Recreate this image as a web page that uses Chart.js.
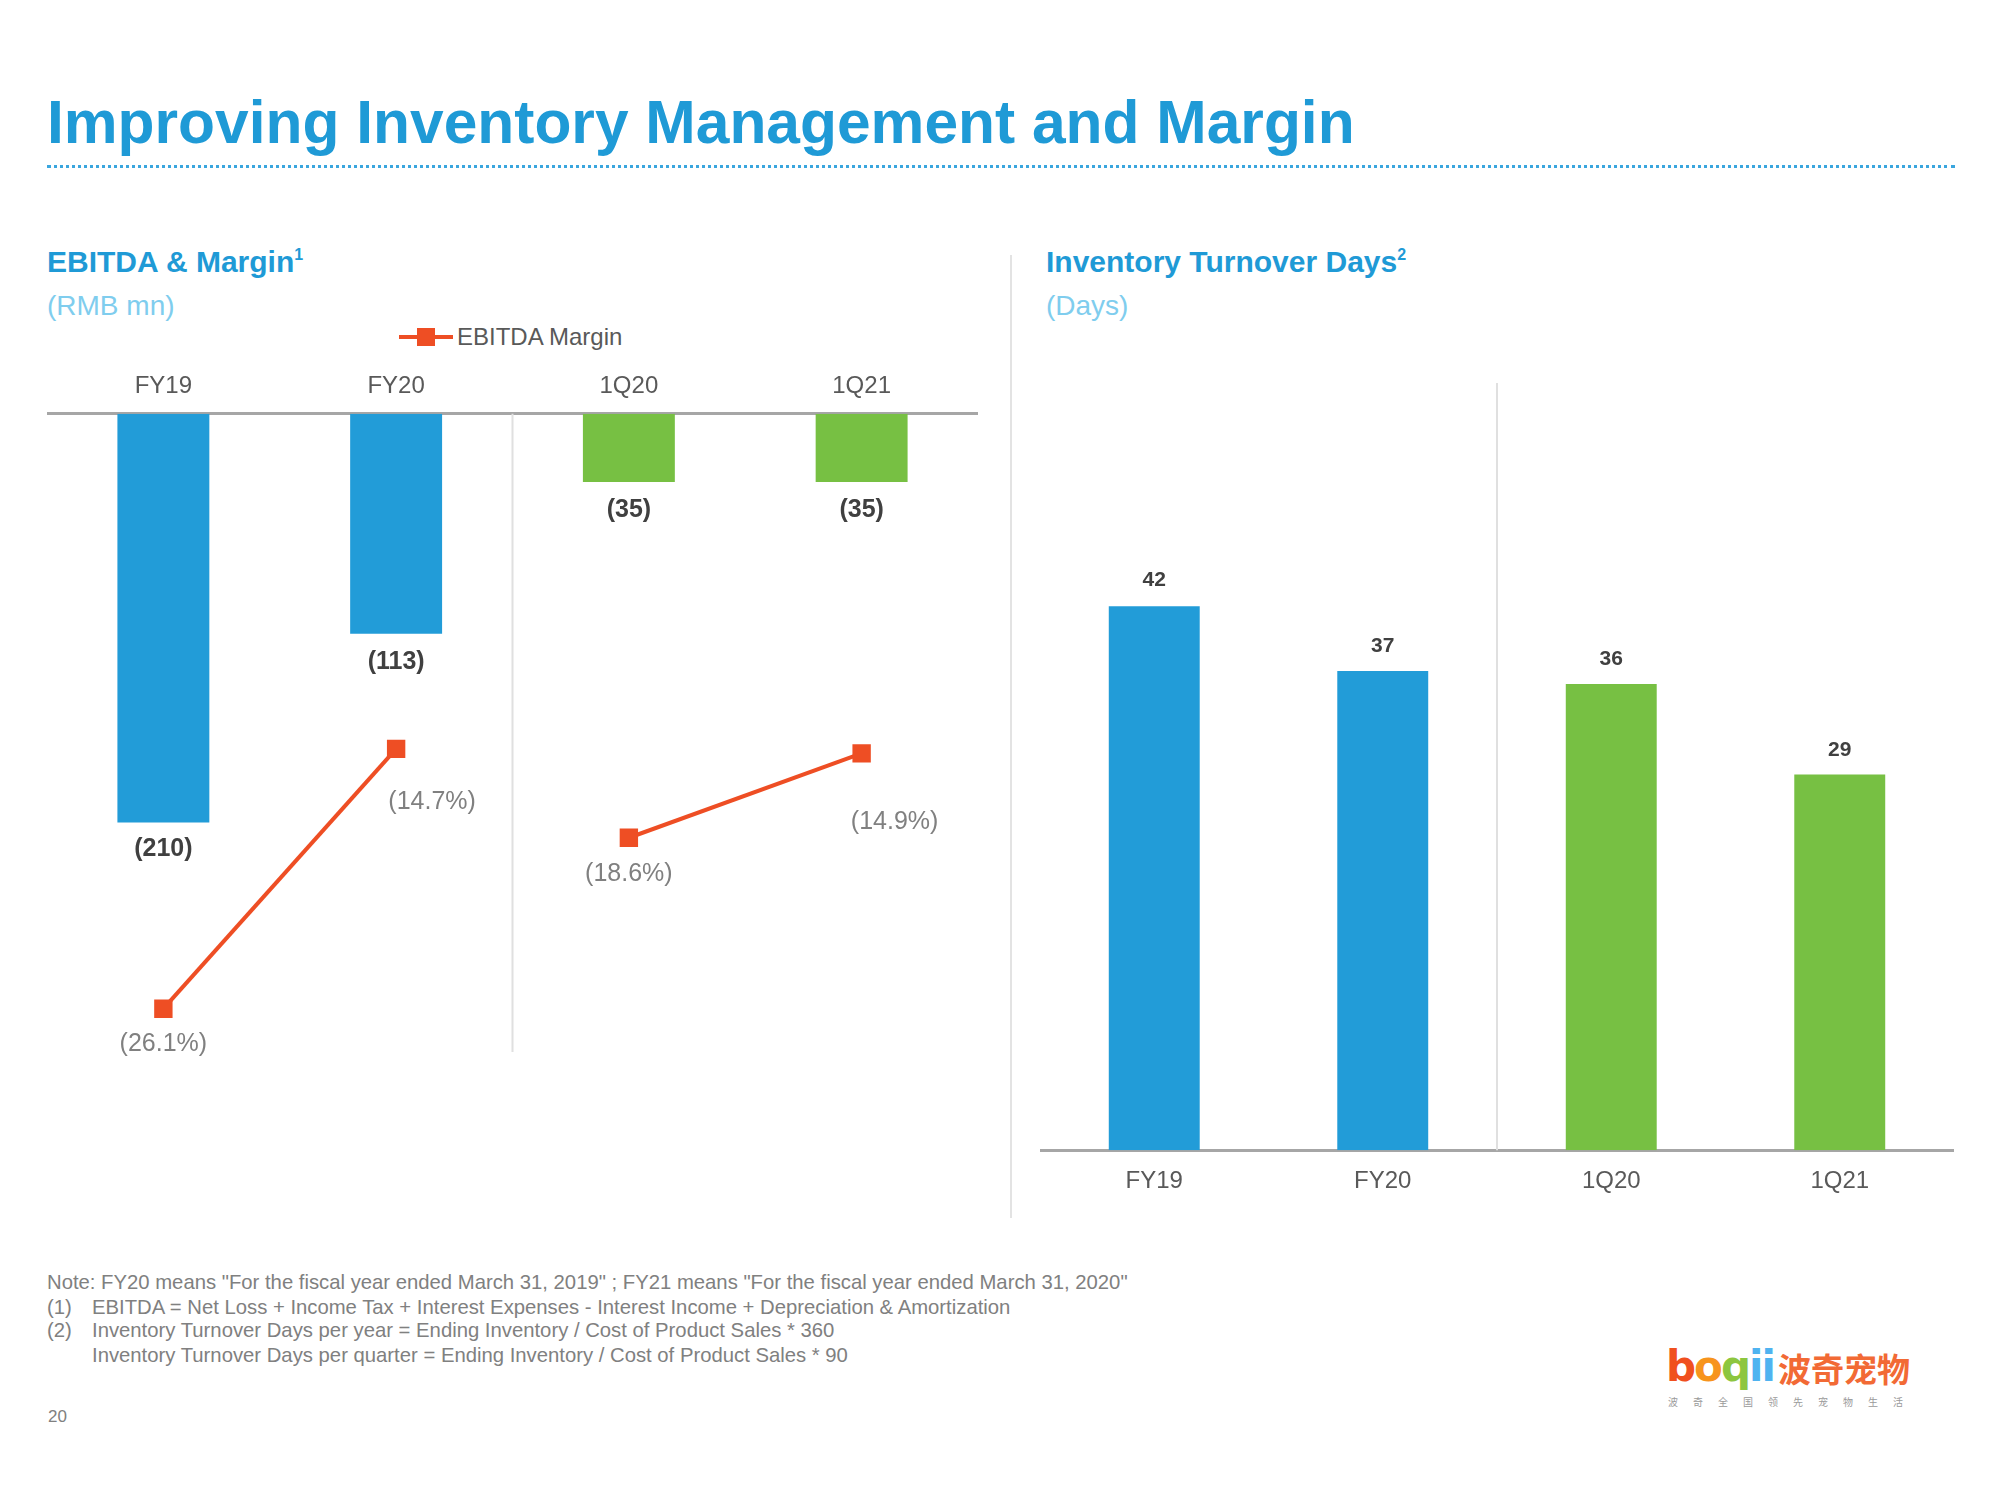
<!DOCTYPE html>
<html>
<head>
<meta charset="utf-8">
<script src="https://cdn.jsdelivr.net/npm/chart.js@4.4.1/dist/chart.umd.min.js"></script>
<style>
  body { margin: 0; width: 2000px; height: 1500px; background: #fff; position: relative; overflow: hidden;
         font-family: "Liberation Sans", Arial, sans-serif; }
  .t { position: absolute; white-space: nowrap; }
  #title { left: 47px; top: 91px; font-size: 60.5px; line-height: 62px; font-weight: bold; color: #1f9ad6; }
  #dots { position: absolute; left: 47px; top: 165px; width: 1908px; border-top: 3px dotted #3aa6de; }
  .head { font-size: 30px; line-height: 30px; font-weight: bold; color: #1f9ad6; }
  .head sup { font-size: 16px; vertical-align: 12px; }
  .unit { font-size: 28px; line-height: 28px; color: #7fcdee; }
  #legend { left: 399px; top: 325px; height: 24px; font-size: 24px; line-height: 24px; color: #595959; }
  #legend .ln { position: absolute; left: 0; top: 10px; width: 54px; height: 4px; background: #ee4e24; }
  #legend .sq { position: absolute; left: 18px; top: 3px; width: 18px; height: 18px; background: #ee4e24; }
  #legend span { position: absolute; left: 58px; top: 0; }
  .vdiv { position: absolute; width: 2px; background: #e3e3e3; }
  canvas { position: absolute; }
  .note { font-size: 20.3px; line-height: 20px; color: #808080; }
  #logo { left: 1666px; top: 1344px; }
  #boqii { position: absolute; left: 0; top: 0; font-family: "DejaVu Sans", sans-serif; font-weight: bold;
           font-size: 42px; line-height: 46px; letter-spacing: -2px; }
  #cn { position: absolute; left: 112px; top: 4px; font-family: "Noto Sans CJK SC", sans-serif; font-weight: bold;
        font-size: 33px; line-height: 40px; color: #f26a35; }
  #tag { position: absolute; left: 2px; top: 52px; font-family: "Noto Sans CJK SC", sans-serif;
         font-size: 10px; line-height: 12px; color: #9a9a9a; letter-spacing: 15px; }
</style>
</head>
<body>
<div class="t" id="title">Improving Inventory Management and Margin</div>
<div id="dots"></div>

<div class="t head" style="left:47px; top:240px;">EBITDA &amp; Margin<sup>1</sup></div>
<div class="t unit" style="left:47px; top:292px;">(RMB mn)</div>
<div class="t" id="legend"><div class="ln"></div><div class="sq"></div><span>EBITDA Margin</span></div>

<div class="vdiv" style="left:1010px; top:255px; height:963px;"></div>
<div class="t head" style="left:1046px; top:240px;">Inventory Turnover Days<sup>2</sup></div>
<div class="t unit" style="left:1046px; top:292px;">(Days)</div>

<canvas id="ebitdaChart" width="931" height="729" style="left:47px; top:351px;"></canvas>
<canvas id="daysChart" width="914" height="880" style="left:1040px; top:340px;"></canvas>

<div class="t note" style="left:47px; top:1272px;">Note: FY20 means "For the fiscal year ended March 31, 2019" ; FY21 means "For the fiscal year ended March 31, 2020"</div>
<div class="t note" style="left:47px; top:1297px;">(1)</div>
<div class="t note" style="left:92px; top:1297px;">EBITDA = Net Loss + Income Tax + Interest Expenses - Interest Income + Depreciation &amp; Amortization</div>
<div class="t note" style="left:47px; top:1320px;">(2)</div>
<div class="t note" style="left:92px; top:1320px;">Inventory Turnover Days per year = Ending Inventory / Cost of Product Sales * 360</div>
<div class="t note" style="left:92px; top:1345px;">Inventory Turnover Days per quarter = Ending Inventory / Cost of Product Sales * 90</div>
<div class="t note" style="left:48px; top:1407px; font-size:17px;">20</div>

<div class="t" id="logo">
  <div id="boqii"><span style="color:#f0501e">b</span><span style="color:#f7941d">o</span><span style="color:#8dc63f">q</span><span style="color:#4fb3f0">ii</span></div>
  <div id="cn">波奇宠物</div>
  <div id="tag">波奇全国领先宠物生活</div>
</div>

<script>
const categories = ['FY19', 'FY20', '1Q20', '1Q21']
const ebitda = [-210, -113, -35, -35]
const ebitdaMargin = [-26.1, -14.7, -18.6, -14.9]
const turnoverDays = [42, 37, 36, 29]

const blue = '#229cd8'
const green = '#77c043'
const lineColor = '#ee4e24'
const periodColors = [blue, blue, green, green]

// labels drawn next to each mark, offsets in px from the mark
const valueLabels = {
  id: 'valueLabels',
  afterDatasetsDraw (chart) {
    const ctx = chart.ctx
    chart.data.datasets.forEach((ds, i) => {
      const lab = ds.valueLabel
      if (!lab) return
      const meta = chart.getDatasetMeta(i)
      ctx.save()
      ctx.font = lab.font
      ctx.fillStyle = lab.color
      ctx.textAlign = 'center'
      ctx.textBaseline = 'middle'
      meta.data.forEach((el, j) => {
        const v = ds.data[j]
        if (v === null) return
        const p = el.getProps(['x', 'y'], true)
        const off = lab.offsets[j]
        ctx.fillText(lab.format(v), p.x + off[0], p.y + off[1])
      })
      ctx.restore()
    })
  }
}

// thin divider between the annual and quarterly groups
const groupDivider = {
  id: 'groupDivider',
  beforeDatasetsDraw (chart, args, opts) {
    const x = chart.scales.x
    const px = (x.getPixelForValue(opts.after) + x.getPixelForValue(opts.after + 1)) / 2
    const area = chart.chartArea
    const ctx = chart.ctx
    ctx.save()
    ctx.strokeStyle = '#e0e0e0'
    ctx.lineWidth = 2
    ctx.beginPath()
    ctx.moveTo(px, area.top + opts.topGap)
    ctx.lineTo(px, area.bottom)
    ctx.stroke()
    ctx.restore()
  }
}

new Chart(document.getElementById('ebitdaChart'), {
  type: 'bar',
  data: {
    labels: categories,
    datasets: [
      {
        label: 'EBITDA Margin',
        type: 'line',
        data: ebitdaMargin,
        yAxisID: 'y1',
        order: 1,
        borderColor: lineColor,
        backgroundColor: lineColor,
        borderWidth: 4,
        pointStyle: 'rect',
        pointRadius: 13,
        pointBorderWidth: 0,
        fill: false,
        segment: {
          borderColor: c => c.p0DataIndex === 1 ? 'rgba(0,0,0,0)' : lineColor
        },
        valueLabel: {
          font: '25px "Liberation Sans", Arial, sans-serif',
          color: '#808080',
          offsets: [[0, 35], [36, 53], [0, 36], [33, 69]],
          format: v => '(' + Math.abs(v).toFixed(1) + '%)'
        }
      },
      {
        label: 'EBITDA',
        data: ebitda,
        yAxisID: 'y',
        order: 2,
        backgroundColor: periodColors,
        barPercentage: 0.395,
        categoryPercentage: 1,
        valueLabel: {
          font: 'bold 25px "Liberation Sans", Arial, sans-serif',
          color: '#404040',
          offsets: [[0, 27], [0, 28], [0, 28], [0, 28]],
          format: v => '(' + Math.abs(v) + ')'
        }
      }
    ]
  },
  options: {
    responsive: false,
    animation: false,
    devicePixelRatio: 1,
    layout: { autoPadding: false, padding: { top: 8, bottom: 28, left: 0, right: 0 } },
    plugins: {
      legend: { display: false },
      tooltip: { enabled: false },
      groupDivider: { after: 1, topGap: 0 }
    },
    scales: {
      x: {
        position: 'top',
        grid: { display: false, drawTicks: false },
        border: { display: true, color: '#a6a6a6', width: 3 },
        ticks: { color: '#595959', font: { size: 24, family: '"Liberation Sans", Arial, sans-serif' }, padding: 13 }
      },
      y: { display: false, min: -328, max: 0 },
      y1: { display: false, min: -28, max: 0 }
    }
  },
  plugins: [valueLabels, groupDivider]
})

new Chart(document.getElementById('daysChart'), {
  type: 'bar',
  data: {
    labels: categories,
    datasets: [
      {
        label: 'Inventory Turnover Days',
        data: turnoverDays,
        backgroundColor: periodColors,
        barPercentage: 0.398,
        categoryPercentage: 1,
        valueLabel: {
          font: 'bold 21px "Liberation Sans", Arial, sans-serif',
          color: '#404040',
          offsets: [[0, -26], [0, -25], [0, -25], [0, -24]],
          format: v => String(v)
        }
      }
    ]
  },
  options: {
    responsive: false,
    animation: false,
    devicePixelRatio: 1,
    layout: { autoPadding: false, padding: { top: 33, bottom: 7, left: 0, right: 0 } },
    plugins: {
      legend: { display: false },
      tooltip: { enabled: false },
      groupDivider: { after: 1, topGap: 10 }
    },
    scales: {
      x: {
        position: 'bottom',
        grid: { display: false, drawTicks: false },
        border: { display: true, color: '#a6a6a6', width: 3 },
        ticks: { color: '#595959', font: { size: 24, family: '"Liberation Sans", Arial, sans-serif' }, padding: 17 }
      },
      y: { display: false, min: 0, max: 60 }
    }
  },
  plugins: [valueLabels, groupDivider]
})
</script>
</body>
</html>
